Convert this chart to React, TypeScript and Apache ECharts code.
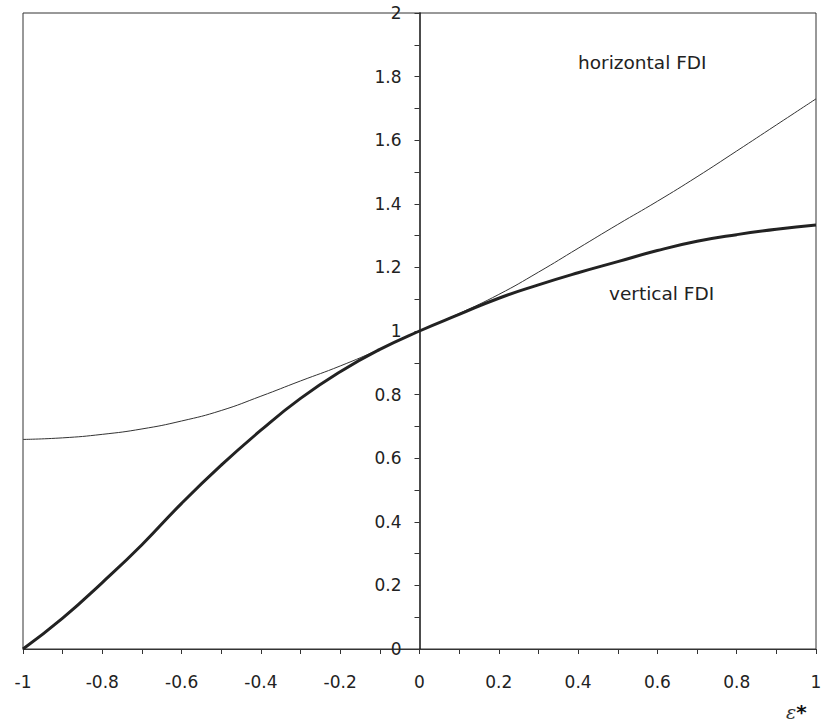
import React, { useEffect, useRef } from "react";
import * as echarts from "echarts";

const xValues = [-1, -0.9, -0.8, -0.7, -0.6, -0.5, -0.4, -0.3, -0.2, -0.1, 0, 0.1, 0.2, 0.3, 0.4, 0.5, 0.6, 0.7, 0.8, 0.9, 1];
const horizontalFDI = [0.659, 0.664, 0.675, 0.692, 0.717, 0.75, 0.795, 0.843, 0.89, 0.943, 1.0, 1.055, 1.115, 1.185, 1.26, 1.335, 1.408, 1.485, 1.566, 1.648, 1.73];
const verticalFDI = [0.0, 0.097, 0.209, 0.328, 0.458, 0.578, 0.688, 0.788, 0.872, 0.942, 1.0, 1.052, 1.103, 1.145, 1.183, 1.218, 1.253, 1.282, 1.303, 1.32, 1.333];

const seriesLabels = ["horizontal FDI", "vertical FDI"];

export default function App() {
  const ref = useRef<HTMLDivElement>(null);
  useEffect(() => {
    if (!ref.current) return;
    const chart = echarts.init(ref.current, null, { renderer: "svg" });
    const font = "'DejaVu Sans', sans-serif";
    const ink = "#222";
    const gridLeft = 23;
    const gridRight = 6;
    const gridWidth = 822 - gridLeft - gridRight;
    chart.setOption({
      animation: false,
      backgroundColor: "#fff",
      grid: {
        left: gridLeft,
        top: 13,
        right: gridRight,
        bottom: 78,
        containLabel: false,
        outerBoundsMode: "none",
        show: true,
        borderColor: "#333",
        borderWidth: 1,
      },
      xAxis: {
        type: "value",
        min: -1,
        max: 1,
        interval: 0.2,
        axisLine: { show: true, onZero: false, lineStyle: { color: "#333", width: 1 } },
        axisTick: { show: true, inside: false, length: 5, lineStyle: { color: "#333" } },
        minorTick: { show: true, splitNumber: 2, length: 5, lineStyle: { color: "#333" } },
        splitLine: { show: false },
        axisLabel: { color: ink, fontSize: 17, fontFamily: font, margin: 24, showMinLabel: true, showMaxLabel: true },
      },
      yAxis: {
        type: "value",
        min: 0,
        max: 2,
        interval: 0.2,
        position: "left",
        offset: -gridWidth / 2,
        axisLine: { show: true, onZero: false, lineStyle: { color: "#111", width: 1.5 } },
        axisTick: { show: true, inside: false, length: 5, lineStyle: { color: "#333" } },
        minorTick: { show: true, splitNumber: 2, length: 5, lineStyle: { color: "#333" } },
        splitLine: { show: false },
        axisLabel: { color: ink, fontSize: 17, fontFamily: font, margin: 18, showMinLabel: true, showMaxLabel: true },
      },
      series: [
        {
          name: seriesLabels[0],
          type: "line",
          smooth: true,
          showSymbol: false,
          data: xValues.map((x, i) => [x, horizontalFDI[i]]),
          lineStyle: { color: "#333", width: 1 },
        },
        {
          name: seriesLabels[1],
          type: "line",
          smooth: true,
          showSymbol: false,
          data: xValues.map((x, i) => [x, verticalFDI[i]]),
          lineStyle: { color: "#222", width: 3 },
        },
      ],
      graphic: [
        {
          type: "text",
          x: 578,
          y: 62,
          style: { text: seriesLabels[0], fontSize: 18.5, fontFamily: font, fill: ink, verticalAlign: "middle" },
        },
        {
          type: "text",
          x: 609,
          y: 293,
          style: { text: seriesLabels[1], fontSize: 18.5, fontFamily: font, fill: ink, verticalAlign: "middle" },
        },
        {
          type: "text",
          x: 786,
          y: 712,
          style: {
            text: "{a|ε}{b|*}",
            verticalAlign: "middle",
            rich: {
              a: { fontSize: 19, fontStyle: "italic", fontFamily: "'DejaVu Serif', serif", fill: "#333" },
              b: { fontSize: 20, fontWeight: "bold", fontFamily: font, fill: "#111" },
            },
          },
        },
      ],
    });
    return () => chart.dispose();
  }, []);
  return (
    <div
      ref={ref}
      style={{ position: "fixed", left: 0, top: 0, width: 822, height: 727, background: "#fff" }}
    />
  );
}
